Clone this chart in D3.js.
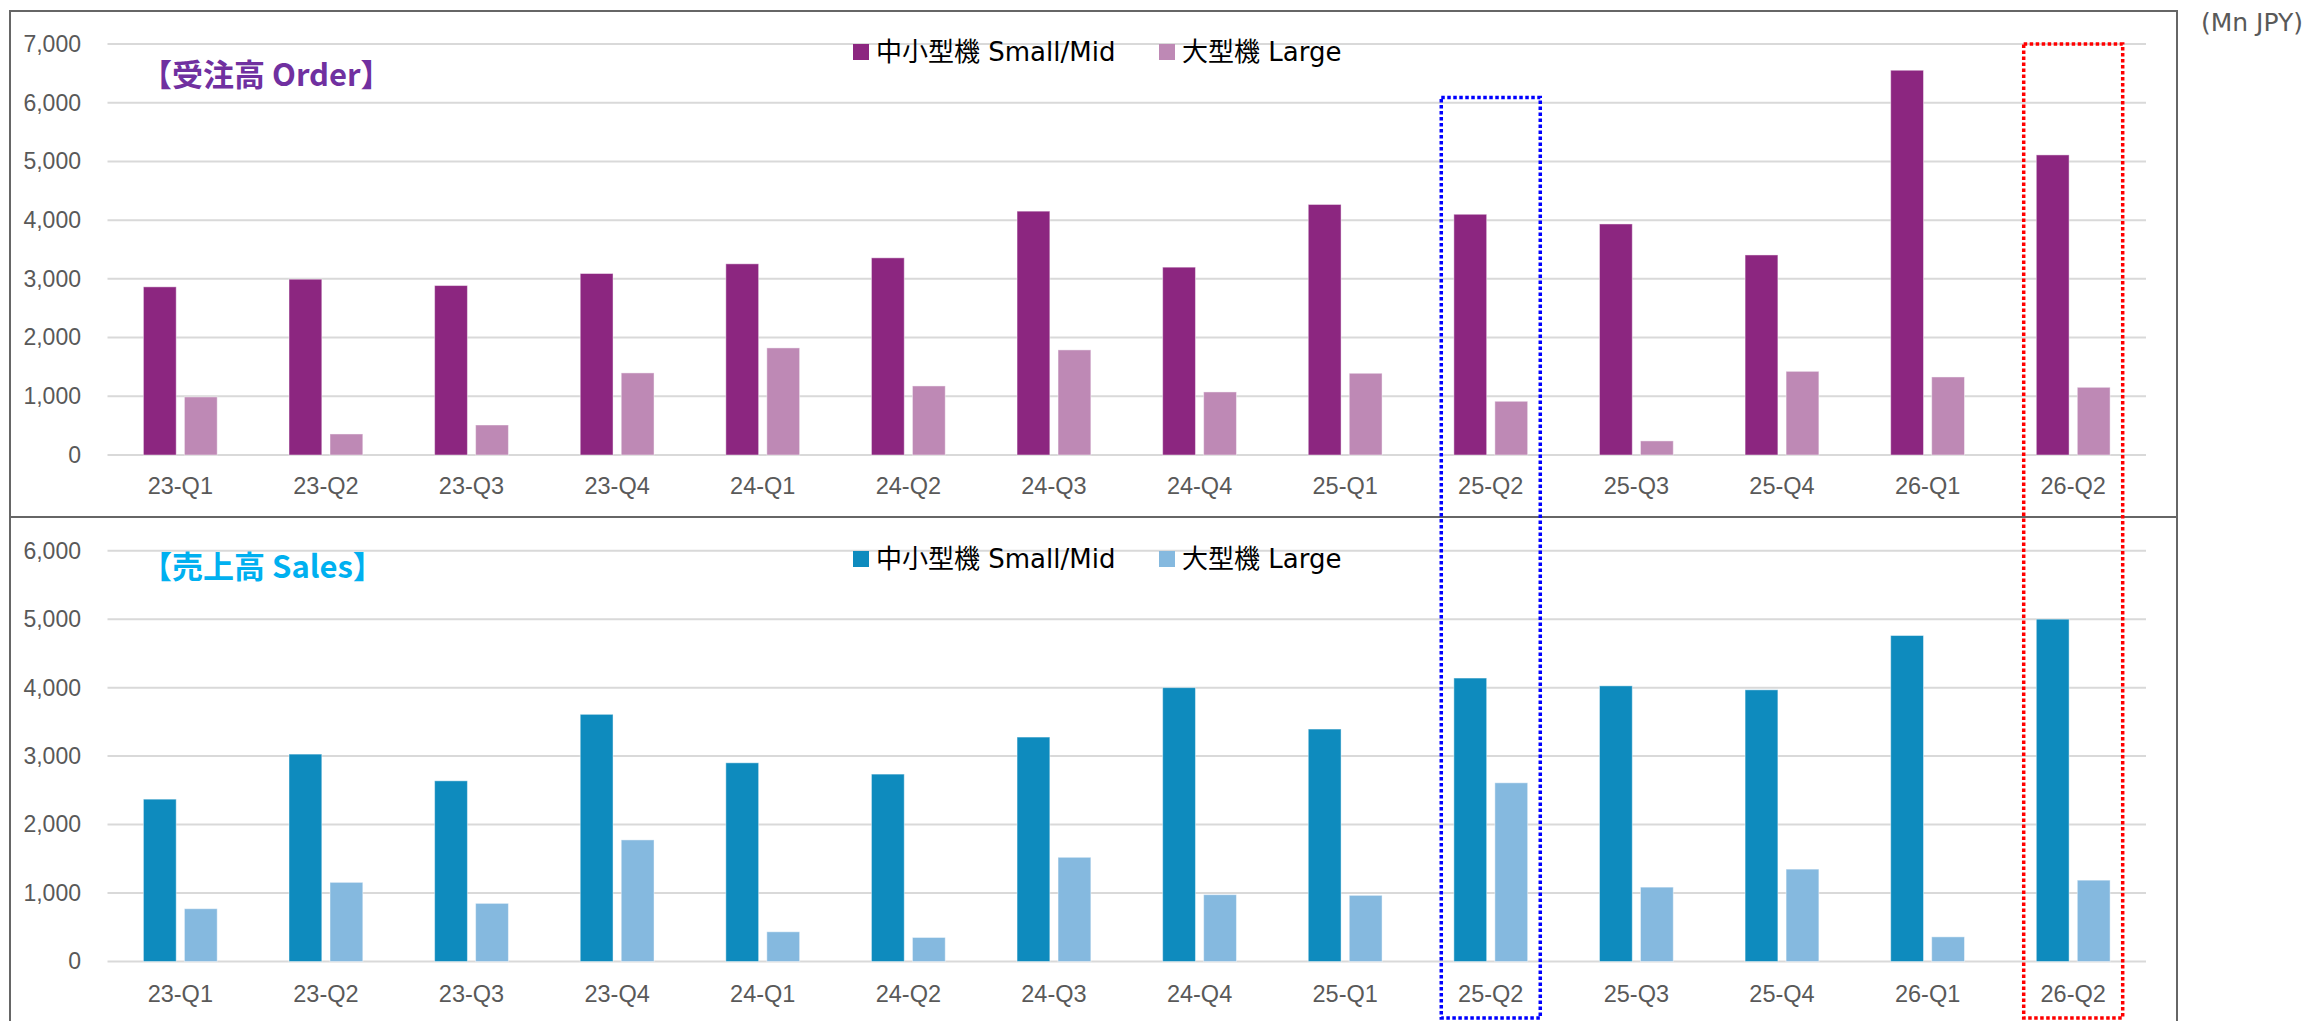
<!DOCTYPE html>
<html>
<head>
<meta charset="utf-8">
<script src="https://cdn.jsdelivr.net/npm/d3@7"></script>
<style>
html, body { margin: 0; padding: 0; background: #ffffff; }
svg { display: block; }
</style>
</head>
<body>
<svg id="chart" width="2307" height="1021"></svg>
<script>
// ---------- data ----------
const categories = ["23-Q1","23-Q2","23-Q3","23-Q4","24-Q1","24-Q2","24-Q3","24-Q4","25-Q1","25-Q2","25-Q3","25-Q4","26-Q1","26-Q2"];
const seriesNames = ["中小型機 Small/Mid", "大型機 Large"];
const orderSmallMid = [2864, 2994, 2886, 3091, 3256, 3358, 4153, 3199, 4267, 4100, 3935, 3407, 6553, 5111];
const orderLarge    = [ 989,  358,  511, 1398, 1824, 1176, 1790, 1074, 1392,  915,  240, 1425, 1329, 1153];
const salesSmallMid = [2371, 3029, 2639, 3610, 2902, 2737, 3278, 4000, 3395, 4140, 4026, 3968, 4761, 5000];
const salesLarge    = [ 771, 1156,  849, 1776,  434,  351, 1522,  976,  966, 2610, 1086, 1349,  360, 1188];
const orderTicks = [0, 1000, 2000, 3000, 4000, 5000, 6000, 7000];
const salesTicks = [0, 1000, 2000, 3000, 4000, 5000, 6000];
const orderTitle = "【受注高 Order】";
const salesTitle = "【売上高 Sales】";
const unitLabel = "(Mn JPY)";
const highlightBlue = "25-Q2";
const highlightRed = "26-Q2";

// ---------- layout ----------
const svg = d3.select("#chart");
const plotLeft = 107.5, plotRight = 2146;
const tickFont = "'Liberation Sans', Arial, sans-serif";
const legendFont = "'DejaVu Sans', Verdana, 'Noto Sans CJK JP', sans-serif";
const titleFont = "'Noto Sans CJK JP', sans-serif";
const gridColor = "#D9D9D9";
const textGray = "#595959";

const x0 = d3.scaleBand().domain(categories).range([plotLeft, plotRight]).paddingInner(0).paddingOuter(0);
const groupW = 73.8;
const x1 = d3.scaleBand().domain(seriesNames)
  .range([(x0.bandwidth() - groupW) / 2, (x0.bandwidth() + groupW) / 2])
  .paddingInner(0.2).paddingOuter(0);

// panel borders
svg.append("rect").attr("x", 10).attr("y", 11).attr("width", 2167).attr("height", 506)
  .attr("fill", "none").attr("stroke", "#666").attr("stroke-width", 2);
svg.append("rect").attr("x", 10).attr("y", 517).attr("width", 2167).attr("height", 520)
  .attr("fill", "none").attr("stroke", "#666").attr("stroke-width", 2);

svg.append("text").attr("x", 2303).attr("y", 22).attr("text-anchor", "end")
  .attr("dominant-baseline", "central")
  .attr("font-family", legendFont).attr("font-size", 25).attr("fill", textGray)
  .text(unitLabel);

function drawPanel(cfg) {
  const g = svg.append("g");
  const y = d3.scaleLinear().domain(cfg.domain).range(cfg.range);

  // gridlines
  g.append("g").selectAll("line").data(cfg.ticks).join("line")
    .attr("x1", plotLeft).attr("x2", plotRight)
    .attr("y1", d => y(d)).attr("y2", d => y(d))
    .attr("stroke", gridColor).attr("stroke-width", 2);

  // y axis labels
  const yAxis = d3.axisLeft(y).tickValues(cfg.ticks).tickFormat(d3.format(",")).tickSize(0).tickPadding(0);
  const ya = g.append("g").attr("transform", "translate(81,0)").call(yAxis);
  ya.select(".domain").remove();
  ya.selectAll("text").attr("font-family", tickFont).attr("font-size", 23).attr("fill", textGray);

  // x axis labels
  const xAxis = d3.axisBottom(x0).tickSize(0).tickPadding(0);
  const xa = g.append("g").attr("transform", `translate(0,${cfg.xLabelY})`).call(xAxis);
  xa.select(".domain").remove();
  xa.selectAll("text").attr("dy", null).attr("dominant-baseline", "central")
    .attr("font-family", tickFont).attr("font-size", 23.5).attr("fill", textGray);

  // bars
  const rows = categories.map((c, i) => ({ cat: c, vals: [cfg.s1[i], cfg.s2[i]] }));
  const grp = g.append("g").selectAll("g").data(rows).join("g")
    .attr("transform", d => `translate(${x0(d.cat)},0)`);
  grp.selectAll("rect").data(d => d.vals.map((v, k) => ({ name: seriesNames[k], v, k })))
    .join("rect")
    .attr("x", d => x1(d.name))
    .attr("width", x1.bandwidth())
    .attr("y", d => y(d.v))
    .attr("height", d => y(0) - y(d.v))
    .attr("fill", d => cfg.colors[d.k])
    .attr("stroke", "#ffffff").attr("stroke-opacity", 0.45).attr("stroke-width", 1);

  // title
  g.append("text").attr("x", 141).attr("y", cfg.titleY).attr("dominant-baseline", "central")
    .attr("font-family", titleFont).attr("font-weight", 700).attr("font-size", 31)
    .attr("fill", cfg.titleColor).text(cfg.title);

  // legend
  const legendX = [853, 1159];
  const lg = g.append("g").selectAll("g").data(seriesNames).join("g")
    .attr("transform", (d, i) => `translate(${legendX[i]},${cfg.legendY})`);
  lg.append("rect").attr("x", 0).attr("y", -8).attr("width", 16).attr("height", 16)
    .attr("fill", (d, i) => cfg.colors[i]);
  lg.append("text").attr("x", 23).attr("y", 0).attr("dominant-baseline", "central")
    .attr("font-family", legendFont).attr("font-size", 26).attr("fill", "#000")
    .text(d => d);

  return y;
}

const yOrder = drawPanel({
  domain: [0, 7000], range: [455, 44], ticks: orderTicks,
  s1: orderSmallMid, s2: orderLarge, colors: ["#8C2680", "#BE89B5"],
  title: orderTitle, titleColor: "#7030A0", titleY: 72, legendY: 52, xLabelY: 486
});
const ySales = drawPanel({
  domain: [0, 6000], range: [961.5, 550.7], ticks: salesTicks,
  s1: salesSmallMid, s2: salesLarge, colors: ["#0E8BBE", "#85B9DF"],
  title: salesTitle, titleColor: "#00B0F0", titleY: 564, legendY: 559, xLabelY: 994
});

// highlight boxes (dotted)
const boxHalf = 49.5;
const boxBottom = ySales(0) + 56.5;
const boxes = [
  { cat: highlightBlue, top: yOrder(6090), color: "#0000FF" },
  { cat: highlightRed, top: yOrder(7000), color: "#FF0000" }
];
svg.append("g").selectAll("rect").data(boxes).join("rect")
  .attr("x", d => x0(d.cat) + x0.bandwidth() / 2 - boxHalf)
  .attr("y", d => d.top)
  .attr("width", boxHalf * 2)
  .attr("height", d => boxBottom - d.top)
  .attr("fill", "none").attr("stroke", d => d.color)
  .attr("stroke-width", 3.5).attr("stroke-dasharray", "3.5,2.5");
</script>
</body>
</html>
